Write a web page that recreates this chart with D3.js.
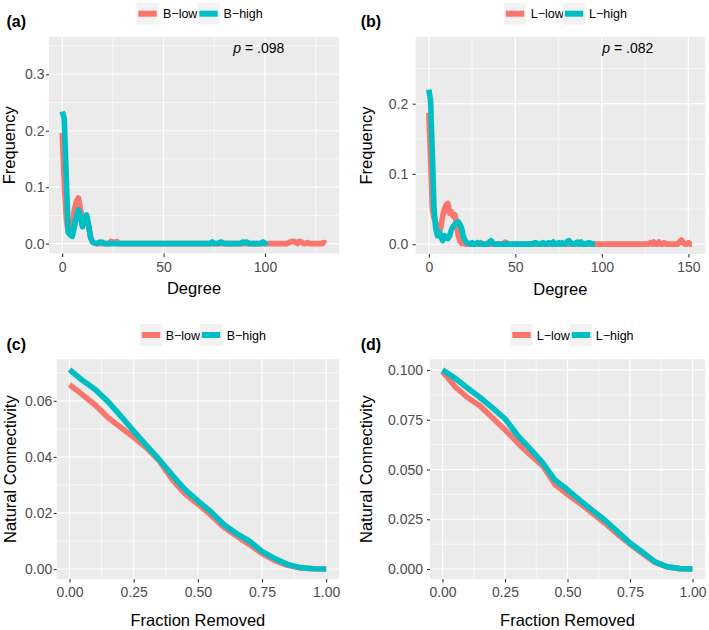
<!DOCTYPE html>
<html><head><meta charset="utf-8">
<script src="https://cdn.jsdelivr.net/npm/d3@7/dist/d3.min.js"></script>
<style>
html,body{margin:0;padding:0;background:#fff;}
svg{display:block;font-family:"Liberation Sans",Arial,Helvetica,sans-serif;}
</style></head>
<body>
<svg id="chart" width="709" height="630"></svg>
<script>
// ---------------- DATA ----------------
// Panel (a): degree distribution, B-low / B-high (frequency per degree, starting at degree 0)
const aLow = [
  0.196, 0.110, 0.045, 0.020, 0.018, 0.035, 0.060, 0.075, 0.081, 0.060,   // 0-9
  0.045, 0.045, 0.040, 0.030, 0.012, 0.003, 0.001, 0, 0, 0,               // 10-19
  0, 0, 0, 0, 0.004, 0.003, 0.002, 0.004, 0, 0,                           // 20-29
  0, 0, 0, 0, 0, 0, 0, 0, 0, 0,                                           // 30-39
  0, 0, 0, 0, 0, 0, 0, 0, 0, 0,                                           // 40-49
  0, 0, 0, 0, 0, 0, 0, 0, 0, 0,                                           // 50-59
  0, 0, 0, 0, 0, 0, 0, 0, 0, 0,                                           // 60-69
  0, 0, 0, 0, 0, 0, 0, 0, 0, 0,                                           // 70-79
  0, 0, 0, 0, 0, 0, 0, 0, 0, 0,                                           // 80-89
  0, 0, 0, 0, 0, 0, 0, 0, 0, 0,                                           // 90-99
  0, 0, 0, 0, 0, 0, 0, 0, 0, 0,                                           // 100-109
  0, 0, 0.002, 0.004, 0.004, 0.003, 0, 0.004, 0.003, 0,                   // 110-119
  0, 0.002, 0, 0, 0, 0, 0, 0, 0, 0.002,                                   // 120-129
  0                                                                       // 130
];
const aHigh = [
  0.234, 0.222, 0.120, 0.020, 0.015, 0.013, 0.030, 0.048, 0.060, 0.048,   // 0-9
  0.030, 0.045, 0.051, 0.035, 0.010, 0.003, 0.001, 0, 0.002, 0.003,       // 10-19
  0.002, 0, 0, 0, 0, 0, 0, 0, 0, 0,                                       // 20-29
  0, 0, 0, 0, 0, 0, 0, 0, 0, 0,                                           // 30-39
  0, 0, 0, 0, 0, 0, 0, 0, 0, 0,                                           // 40-49
  0, 0, 0, 0, 0, 0, 0, 0, 0, 0,                                           // 50-59
  0, 0, 0, 0, 0, 0, 0, 0, 0, 0,                                           // 60-69
  0, 0, 0, 0, 0.003, 0, 0, 0, 0.003, 0.002,                               // 70-79
  0, 0, 0, 0, 0, 0, 0, 0, 0, 0.003,                                       // 80-89
  0.002, 0.003, 0, 0, 0, 0, 0, 0, 0, 0.003,                               // 90-99
  0, 0.003                                                                // 100-101
];
// Panel (b): degree distribution, L-low / L-high
const bLow = [
  0.187, 0.120, 0.050, 0.037, 0.030, 0.020, 0.018, 0.025, 0.040, 0.050,   // 0-9
  0.056, 0.058, 0.044, 0.046, 0.040, 0.042, 0.030, 0.012, 0.004, 0.001,   // 10-19
  0.003, 0, 0, 0, 0, 0, 0, 0, 0, 0,                                       // 20-29
  0.002, 0, 0, 0, 0, 0, 0, 0, 0, 0,                                       // 30-39
  0, 0, 0, 0, 0.003, 0.002, 0, 0, 0, 0,                                   // 40-49
  0, 0, 0, 0, 0, 0, 0, 0, 0, 0,                                           // 50-59
  0, 0, 0, 0, 0, 0, 0, 0, 0, 0,                                           // 60-69
  0, 0, 0, 0, 0, 0, 0, 0, 0, 0,                                           // 70-79
  0, 0, 0, 0, 0, 0, 0, 0, 0, 0,                                           // 80-89
  0, 0, 0, 0, 0, 0, 0, 0, 0, 0,                                           // 90-99
  0, 0, 0, 0, 0, 0, 0, 0, 0, 0,                                           // 100-109
  0, 0, 0, 0, 0, 0, 0, 0, 0, 0,                                           // 110-119
  0, 0, 0, 0, 0, 0, 0, 0, 0.002, 0,                                       // 120-129
  0.003, 0, 0, 0.003, 0, 0, 0.002, 0, 0, 0,                               // 130-139
  0, 0, 0, 0, 0, 0.004, 0.006, 0.002, 0, 0,                               // 140-149
  0.002, 0, 0                                                             // 150-152
];
const bHigh = [
  0.220, 0.205, 0.130, 0.050, 0.022, 0.012, 0.018, 0.010, 0.005, 0.012,   // 0-9
  0.010, 0.008, 0.012, 0.020, 0.025, 0.028, 0.030, 0.032, 0.028, 0.022,   // 10-19
  0.010, 0.005, 0.002, 0.001, 0, 0.002, 0, 0, 0.002, 0,                   // 20-29
  0.001, 0, 0, 0, 0, 0.003, 0.005, 0.001, 0, 0,                           // 30-39
  0, 0, 0, 0, 0, 0, 0, 0, 0, 0,                                           // 40-49
  0, 0, 0, 0, 0, 0, 0, 0, 0, 0,                                           // 50-59
  0, 0.002, 0.002, 0, 0, 0, 0.002, 0, 0, 0.002,                           // 60-69
  0.002, 0, 0.003, 0, 0, 0.002, 0, 0.002, 0, 0,                           // 70-79
  0.004, 0.005, 0.002, 0, 0, 0.002, 0.003, 0, 0.003, 0,                   // 80-89
  0, 0, 0.002, 0.002, 0, 0, 0                                             // 90-96
];
// Panels (c) and (d): natural connectivity vs fraction of nodes removed
const fraction = [0, 0.05, 0.10, 0.15, 0.20, 0.25, 0.30, 0.35, 0.40, 0.45, 0.50,
                  0.55, 0.60, 0.65, 0.70, 0.75, 0.80, 0.85, 0.90, 0.95, 1.00];
const cLow  = [0.0657, 0.0622, 0.0585, 0.0540, 0.0505, 0.0470, 0.0432, 0.0385, 0.0320, 0.0268, 0.0232,
               0.0193, 0.0150, 0.0118, 0.0088, 0.0055, 0.0030, 0.0013, 0.0004, 0.0001, 0];
const cHigh = [0.0711, 0.0673, 0.0640, 0.0597, 0.0545, 0.0492, 0.0440, 0.0390, 0.0335, 0.0283, 0.0243,
               0.0205, 0.0160, 0.0127, 0.0100, 0.0063, 0.0037, 0.0016, 0.0005, 0.0001, 0];
const dLow  = [0.0993, 0.0917, 0.0862, 0.0820, 0.0760, 0.0700, 0.0635, 0.0575, 0.0520, 0.0425, 0.0375,
               0.0330, 0.0280, 0.0230, 0.0175, 0.0125, 0.0078, 0.0033, 0.0010, 0.0002, 0];
const dHigh = [0.1001, 0.0959, 0.0910, 0.0862, 0.0810, 0.0755, 0.0672, 0.0605, 0.0535, 0.0447, 0.0398,
               0.0345, 0.0295, 0.0245, 0.0188, 0.0130, 0.0085, 0.0036, 0.0011, 0.0002, 0];

const labelsB = ["B\u2212low", "B\u2212high"];
const labelsL = ["L\u2212low", "L\u2212high"];
const pValues = [".098", ".082"];
const yTicksA = [0, 0.1, 0.2, 0.3];
const yTicksB = [0, 0.1, 0.2];
const yTicksC = [0, 0.02, 0.04, 0.06];
const yTicksD = [0, 0.025, 0.05, 0.075, 0.1];
const xTicksDeg = [0, 50, 100, 150];
const xTicksFrac = [0, 0.25, 0.5, 0.75, 1];

// ---------------- DRAW ----------------
const COL_LOW = "#F8766D", COL_HIGH = "#00BFC4";
const svg = d3.select("#chart");

function degreeSeries(arr){ return arr.map((v,i)=>({x:i, y:v})); }
function fracSeries(arr){ return arr.map((v,i)=>({x:fraction[i], y:v})); }

function panel(cfg){
  const g = svg.append("g");
  const x = d3.scaleLinear().domain(cfg.xDom).range([cfg.x0, cfg.x1]);
  const y = d3.scaleLinear().domain(cfg.yDom).range([cfg.y1, cfg.y0]);
  g.append("rect").attr("x",cfg.x0).attr("y",cfg.y0)
    .attr("width",cfg.x1-cfg.x0).attr("height",cfg.y1-cfg.y0).attr("fill","#ebebeb");
  const xMax = cfg.xDom[1], yMax = cfg.yDom[1];
  const xt = cfg.xTicks.filter(t=>t<=xMax);
  const xm = [];
  for(let i=0;i<xt.length;i++){ const n = i+1<xt.length ? xt[i+1] : xt[i]+(xt[1]-xt[0]); const m=(xt[i]+n)/2; if(m<xMax) xm.push(m); }
  const ym = [];
  for(let i=0;i<cfg.yTicks.length;i++){ const t=cfg.yTicks[i]; const n = i+1<cfg.yTicks.length? cfg.yTicks[i+1] : t+(cfg.yTicks[1]-cfg.yTicks[0]); const m=(t+n)/2; if(m<yMax) ym.push(m); }
  // minor grid
  g.selectAll(".mx").data(xm).join("line").attr("x1",d=>x(d)).attr("x2",d=>x(d))
    .attr("y1",cfg.y0).attr("y2",cfg.y1).attr("stroke","#fff").attr("stroke-width",0.6);
  g.selectAll(".my").data(ym).join("line").attr("y1",d=>y(d)).attr("y2",d=>y(d))
    .attr("x1",cfg.x0).attr("x2",cfg.x1).attr("stroke","#fff").attr("stroke-width",0.6);
  // major grid
  g.selectAll(".gx").data(xt).join("line").attr("x1",d=>x(d)).attr("x2",d=>x(d))
    .attr("y1",cfg.y0).attr("y2",cfg.y1).attr("stroke","#fff").attr("stroke-width",1.2);
  g.selectAll(".gy").data(cfg.yTicks).join("line").attr("y1",d=>y(d)).attr("y2",d=>y(d))
    .attr("x1",cfg.x0).attr("x2",cfg.x1).attr("stroke","#fff").attr("stroke-width",1.2);
  // lines
  const line = d3.line().x(d=>x(d.x)).y(d=>y(d.y));
  cfg.series.forEach(s=>{
    g.append("path").datum(s.data).attr("d",line).attr("fill","none")
      .attr("stroke",s.color).attr("stroke-width",5.6)
      .attr("stroke-linejoin","round").attr("stroke-linecap","butt");
  });
  // axes
  const ax = g.append("g").attr("transform",`translate(0,${cfg.y1})`)
    .call(d3.axisBottom(x).tickValues(xt).tickFormat(cfg.xFmt).tickSize(3.5).tickSizeOuter(0).tickPadding(5));
  const ay = g.append("g").attr("transform",`translate(${cfg.x0},0)`)
    .call(d3.axisLeft(y).tickValues(cfg.yTicks).tickFormat(cfg.yFmt).tickSize(3).tickSizeOuter(0).tickPadding(cfg.yPad));
  [ax,ay].forEach(a=>{
    a.select(".domain").remove();
    a.selectAll(".tick line").attr("stroke","#333").attr("stroke-width",1.1);
    a.selectAll(".tick text").attr("fill","#4d4d4d").style("font-size","14px")
      .style("font-family","'Liberation Sans',Arial,sans-serif");
  });
  // axis titles
  g.append("text").attr("x",(cfg.x0+cfg.x1)/2).attr("y",cfg.xTitleY).attr("text-anchor","middle")
    .style("font-size","16.5px").attr("fill","#000").text(cfg.xTitle);
  g.append("text").attr("transform",`translate(${cfg.yTitleX},${(cfg.y0+cfg.y1)/2}) rotate(-90)`)
    .attr("text-anchor","middle").style("font-size","16.5px").attr("fill","#000").text(cfg.yTitle);
  // panel tag
  g.append("text").attr("x",cfg.tagX).attr("y",cfg.tagY).style("font-size","16px")
    .style("font-weight","bold").text(cfg.tag);
  // legend
  cfg.legend.forEach((k,i)=>{
    g.append("rect").attr("x",k.kx).attr("y",cfg.legCy-11).attr("width",22).attr("height",22).attr("fill","#f2f2f2");
    g.append("line").attr("x1",k.kx+1.8).attr("x2",k.kx+20.2).attr("y1",cfg.legCy).attr("y2",cfg.legCy)
      .attr("stroke",k.color).attr("stroke-width",6);
    g.append("text").attr("x",k.tx).attr("y",cfg.legCy+4.6).style("font-size","12.5px").attr("fill","#000").text(k.label);
  });
  // p annotation
  if(cfg.p){
    const t = g.append("text").attr("x",cfg.p.x).attr("y",cfg.p.y).style("font-size","14px").attr("fill","#000");
    t.append("tspan").style("font-style","italic").text("p");
    t.append("tspan").text(" = " + cfg.p.v);
  }
}

panel({
  x0:49, x1:339, y0:37, y1:253.5, xDom:[-6.5,136.5], yDom:[-0.0174,0.366],
  xTicks:xTicksDeg, yTicks:yTicksA, xFmt:d3.format("d"), yFmt:d3.format(".1f"), yPad:1.5,
  series:[{data:degreeSeries(aLow),color:COL_LOW},{data:degreeSeries(aHigh),color:COL_HIGH}],
  xTitle:"Degree", xTitleY:294.3, yTitle:"Frequency", yTitleX:15,
  tag:"(a)", tagX:6.5, tagY:26.5, legCy:13.7,
  legend:[{kx:136.5,tx:163,label:labelsB[0],color:COL_LOW},{kx:197.5,tx:223.5,label:labelsB[1],color:COL_HIGH}],
  p:{x:233.3,y:53.3,v:pValues[0]}
});
panel({
  x0:415.7, x1:705, y0:37, y1:254, xDom:[-7.6,159.6], yDom:[-0.01405,0.295],
  xTicks:xTicksDeg, yTicks:yTicksB, xFmt:d3.format("d"), yFmt:d3.format(".1f"), yPad:4.5,
  series:[{data:degreeSeries(bLow),color:COL_LOW},{data:degreeSeries(bHigh),color:COL_HIGH}],
  xTitle:"Degree", xTitleY:295, yTitle:"Frequency", yTitleX:372,
  tag:"(b)", tagX:360.7, tagY:26.5, legCy:13.7,
  legend:[{kx:504,tx:530.7,label:labelsL[0],color:COL_LOW},{kx:563,tx:589,label:labelsL[1],color:COL_HIGH}],
  p:{x:602.3,y:53.3,v:pValues[1]}
});
panel({
  x0:56.7, x1:339, y0:359.3, y1:579, xDom:[-0.05,1.05], yDom:[-0.00356,0.0748],
  xTicks:xTicksFrac, yTicks:yTicksC, xFmt:d3.format(".2f"), yFmt:d3.format(".2f"), yPad:1.5,
  series:[{data:fracSeries(cLow),color:COL_LOW},{data:fracSeries(cHigh),color:COL_HIGH}],
  xTitle:"Fraction Removed", xTitleY:625.5, yTitle:"Natural Connectivity", yTitleX:15.5,
  tag:"(c)", tagX:6.5, tagY:350, legCy:335,
  legend:[{kx:140,tx:165.7,label:labelsB[0],color:COL_LOW},{kx:200,tx:226.7,label:labelsB[1],color:COL_HIGH}]
});
panel({
  x0:430, x1:705, y0:359.3, y1:579, xDom:[-0.05,1.05], yDom:[-0.00502,0.1054],
  xTicks:xTicksFrac, yTicks:yTicksD, xFmt:d3.format(".2f"), yFmt:d3.format(".3f"), yPad:4,
  series:[{data:fracSeries(dLow),color:COL_LOW},{data:fracSeries(dHigh),color:COL_HIGH}],
  xTitle:"Fraction Removed", xTitleY:626, yTitle:"Natural Connectivity", yTitleX:371.5,
  tag:"(d)", tagX:360.7, tagY:350, legCy:335,
  legend:[{kx:510.5,tx:536.7,label:labelsL[0],color:COL_LOW},{kx:570,tx:595.7,label:labelsL[1],color:COL_HIGH}]
});
</script>
</body></html>
